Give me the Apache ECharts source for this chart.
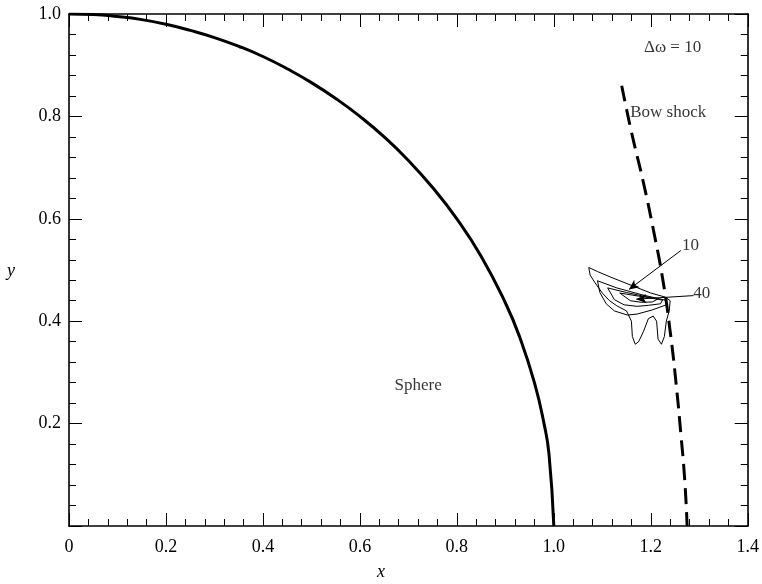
<!DOCTYPE html>
<html>
<head>
<meta charset="utf-8">
<script src="https://cdn.jsdelivr.net/npm/echarts@6/dist/echarts.min.js"></script>
<style>
  html, body { margin: 0; padding: 0; background: #fff; }
  #chart { width: 762px; height: 584px; }
</style>
</head>
<body>
<div id="chart"></div>
<script>
// Sphere surface (quarter section)
const sphereX = [0, 0.05, 0.1, 0.15, 0.2, 0.25, 0.3, 0.35, 0.4, 0.45, 0.5, 0.55, 0.6, 0.65, 0.7, 0.75, 0.8, 0.85, 0.9, 0.93, 0.96, 0.98, 0.99, 1.0];
const sphereY = [1.0, 0.999, 0.995, 0.989, 0.98, 0.968, 0.954, 0.937, 0.917, 0.893, 0.866, 0.835, 0.8, 0.76, 0.714, 0.661, 0.6, 0.527, 0.436, 0.368, 0.28, 0.199, 0.141, 0.0];

// Bow shock location
const shockX = [1.14, 1.16, 1.185, 1.205, 1.225, 1.24, 1.252, 1.262, 1.27, 1.275];
const shockY = [0.86, 0.77, 0.67, 0.58, 0.48, 0.38, 0.28, 0.18, 0.09, 0.0];

// Vorticity contours (outer to inner), [x, y] pairs
const contour1 = [[1.072,0.505],[1.09,0.497],[1.12,0.485],[1.16,0.47],[1.20,0.455],[1.23,0.447],[1.24,0.44],[1.238,0.42],[1.232,0.40],[1.228,0.37],[1.222,0.355],[1.215,0.365],[1.212,0.40],[1.205,0.41],[1.195,0.405],[1.185,0.38],[1.175,0.36],[1.168,0.355],[1.162,0.37],[1.16,0.40],[1.15,0.42],[1.13,0.43],[1.115,0.44],[1.10,0.455],[1.085,0.475],[1.075,0.49],[1.072,0.505]];
const contour2 = [[1.09,0.479],[1.13,0.465],[1.18,0.452],[1.23,0.441],[1.232,0.432],[1.203,0.422],[1.172,0.414],[1.152,0.412],[1.125,0.42],[1.108,0.434],[1.095,0.456],[1.09,0.479]];
const contour3 = [[1.111,0.465],[1.15,0.456],[1.19,0.448],[1.224,0.441],[1.22,0.434],[1.195,0.431],[1.172,0.429],[1.145,0.432],[1.125,0.442],[1.111,0.465]];
const contour4 = [[1.136,0.455],[1.175,0.449],[1.214,0.443],[1.203,0.4375],[1.18,0.437],[1.158,0.440],[1.136,0.455]];

// Contour level annotations: label position and arrow tip
const levelLabels = ['10', '40'];
const levelLabelPos = [[1.282, 0.548], [1.305, 0.455]];
const levelArrowFrom = [[1.262, 0.538], [1.288, 0.45]];
const levelArrowTo = [[1.155, 0.462], [1.17, 0.443]];

// Tick labels
const xTickLabels = ['0', '0.2', '0.4', '0.6', '0.8', '1.0', '1.2', '1.4'];
const yTickLabels = ['', '0.2', '0.4', '0.6', '0.8', '1.0'];

const FONT = '"Liberation Serif", "DejaVu Serif", serif';
const ink = '#000';

function zip(xs, ys) { return xs.map((x, i) => [x, ys[i]]); }

function contourSeries(pts) {
  return {
    type: 'line', data: pts, symbol: 'none', silent: true,
    lineStyle: { color: ink, width: 1 }, z: 3
  };
}

const chart = echarts.init(document.getElementById('chart'), null, { renderer: 'canvas' });

const axisCommon = {
  type: 'value',
  axisLine: { show: true, onZero: false, lineStyle: { color: ink, width: 1.6 } },
  axisTick: { show: true, inside: true, length: 13, lineStyle: { color: ink, width: 1 } },
  minorTick: { show: true, splitNumber: 5, length: 7, lineStyle: { color: ink, width: 1 } },
  splitLine: { show: false },
  minorSplitLine: { show: false }
};

chart.setOption({
  backgroundColor: '#fff',
  animation: false,
  grid: { left: 69, top: 14, right: 11, bottom: 58 },
  xAxis: [
    Object.assign({}, axisCommon, {
      position: 'bottom', min: 0, max: 1.4, interval: 0.2,
      axisLabel: {
        color: ink, fontFamily: FONT, fontSize: 18, margin: 12,
        formatter: (v) => xTickLabels[Math.round(v / 0.2)]
      }
    }),
    Object.assign({}, axisCommon, {
      position: 'top', min: 0, max: 1.4, interval: 0.2,
      axisLabel: { show: false }
    })
  ],
  yAxis: [
    Object.assign({}, axisCommon, {
      position: 'left', min: 0, max: 1, interval: 0.2,
      axisLabel: {
        color: ink, fontFamily: FONT, fontSize: 18, margin: 8,
        formatter: (v) => yTickLabels[Math.round(v / 0.2)]
      }
    }),
    Object.assign({}, axisCommon, {
      position: 'right', min: 0, max: 1, interval: 0.2,
      axisLabel: { show: false }
    })
  ],
  graphic: [
    { type: 'text', left: 377, top: 563, style: { text: 'x', font: 'italic 18px ' + FONT, fill: ink } },
    { type: 'text', left: 7, top: 262, style: { text: 'y', font: 'italic 18px ' + FONT, fill: ink } }
  ],
  series: [
    {
      name: 'Sphere', type: 'line', data: zip(sphereX, sphereY), symbol: 'none', smooth: true,
      lineStyle: { color: ink, width: 3 }, z: 4, silent: true
    },
    {
      name: 'Bow shock', type: 'line', data: zip(shockX, shockY), symbol: 'none', smooth: true,
      lineStyle: { color: ink, width: 3, type: [16, 8] }, z: 4, silent: true
    },
    contourSeries(contour1),
    contourSeries(contour2),
    contourSeries(contour3),
    contourSeries(contour4),
    {
      // annotation texts and level arrows
      type: 'scatter', symbolSize: 0, silent: true, z: 5,
      data: [
        { value: [0.72, 0.275], label: { show: true, formatter: 'Sphere', position: 'inside' } },
        { value: [1.236, 0.807], label: { show: true, formatter: 'Bow shock', position: 'inside' } },
        { value: [1.245, 0.935], label: { show: true, formatter: 'Δω = 10', position: 'inside' } },
        { value: levelLabelPos[0], label: { show: true, formatter: levelLabels[0], position: 'inside' } },
        { value: levelLabelPos[1], label: { show: true, formatter: levelLabels[1], position: 'inside' } }
      ],
      label: { color: ink, fontFamily: FONT, fontSize: 17 },
      markLine: {
        silent: true, symbol: ['none', 'arrow'], symbolSize: [7, 10],
        label: { show: false },
        lineStyle: { color: ink, width: 1, type: 'solid' },
        data: [
          [{ coord: levelArrowFrom[0] }, { coord: levelArrowTo[0] }],
          [{ coord: levelArrowFrom[1] }, { coord: levelArrowTo[1] }]
        ]
      }
    }
  ]
});
</script>
</body>
</html>
